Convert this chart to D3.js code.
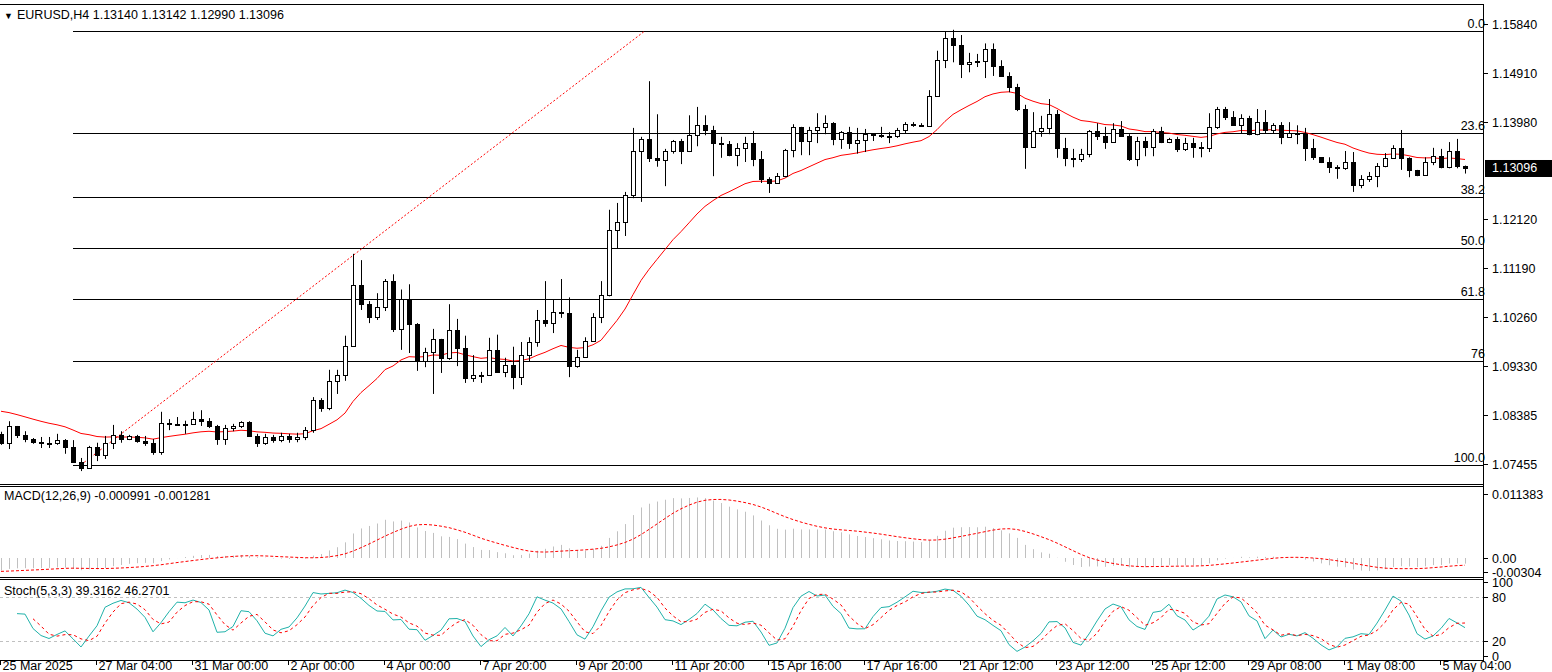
<!DOCTYPE html>
<html>
<head>
<meta charset="utf-8"/>
<script src="https://cdnjs.cloudflare.com/ajax/libs/d3/7.8.5/d3.min.js"></script>
<style>
  body { margin: 0; background: #fff; }
  text { font-family: "Liberation Sans", Arial, sans-serif; font-size: 12.5px; fill: #000; }
</style>
</head>
<body>
<script>
// EURUSD H4 bars (open = previous close)
const open0 = 1.0803;
const closes = [
  1.0786,1.0818,1.0801,1.0793,1.0787,1.0786,1.0786,1.0791,1.0778,1.0749,1.0738,1.0778,
  1.0763,1.0786,1.0801,1.0793,1.0799,1.0789,1.0786,1.0768,1.0824,1.0822,1.0822,1.0822,
  1.0831,1.0827,1.0818,1.0793,1.0814,1.0818,1.0826,1.0799,1.0786,1.0797,1.0791,1.0799,
  1.0793,1.0797,1.0810,1.0867,1.0852,1.0904,1.0915,1.0971,1.1087,1.1051,1.1026,1.1045,
  1.1094,1.1002,1.1059,1.1012,1.0942,1.0959,1.0984,1.0948,1.1001,1.0967,1.0909,1.0915,
  1.0915,1.0963,1.0921,1.0934,1.0911,1.0953,1.0978,1.1020,1.1014,1.1035,1.1033,1.0932,
  1.0949,1.0980,1.1026,1.1067,1.1191,1.1207,1.1258,1.1342,1.1365,1.1329,1.1325,1.1342,
  1.1361,1.1342,1.1372,1.1391,1.1382,1.1357,1.1355,1.1334,1.1348,1.1357,1.1327,1.1289,
  1.1281,1.1294,1.1344,1.1388,1.1361,1.1382,1.1388,1.1395,1.1365,1.1378,1.1357,1.1363,
  1.1374,1.1372,1.1371,1.1370,1.1382,1.1393,1.1391,1.1390,1.1447,1.1515,1.1557,1.1544,
  1.1508,1.1511,1.1513,1.1536,1.1504,1.1485,1.1464,1.1422,1.1350,1.1380,1.1386,1.1413,
  1.1348,1.1329,1.1327,1.1336,1.1380,1.1370,1.1359,1.1384,1.1370,1.1327,1.1361,1.1350,
  1.1380,1.1359,1.1365,1.1346,1.1357,1.1350,1.1348,1.1388,1.1422,1.1407,1.1391,1.1405,
  1.1374,1.1397,1.1382,1.1391,1.1369,1.1376,1.1374,1.1348,1.1330,1.1321,1.1311,1.1309,
  1.1321,1.1277,1.1289,1.1294,1.1313,1.1329,1.1348,1.1329,1.1306,1.1296,1.1321,1.1332,
  1.1311,1.1342,1.1314,1.13096
];
const highs = [
  1.0807,1.0827,1.0818,1.0808,1.0795,1.0797,1.0797,1.0803,1.0793,1.0791,1.0757,1.0780,
  1.0786,1.0799,1.0820,1.0808,1.0801,1.0801,1.0799,1.0793,1.0845,1.0831,1.0835,1.0828,
  1.0845,1.0848,1.0833,1.0820,1.0820,1.0822,1.0827,1.0827,1.0803,1.0803,1.0801,1.0805,
  1.0803,1.0805,1.0816,1.0873,1.0871,1.0925,1.0925,1.0990,1.1146,1.1134,1.1056,1.1071,
  1.1098,1.1107,1.1078,1.1088,1.1014,1.0967,1.1003,1.0984,1.1050,1.1022,1.0990,1.0953,
  1.0921,1.0986,1.0992,1.0948,1.0969,1.0978,1.0987,1.1039,1.1094,1.1058,1.1098,1.1063,
  1.0963,1.0987,1.1033,1.1094,1.1230,1.1243,1.1264,1.1386,1.1369,1.1475,1.1412,1.1346,
  1.1363,1.1365,1.1410,1.1426,1.1410,1.1390,1.1369,1.1361,1.1357,1.1369,1.1380,1.1342,
  1.1292,1.1300,1.1346,1.1393,1.1388,1.1388,1.1414,1.1410,1.1397,1.1380,1.1388,1.1386,
  1.1384,1.1376,1.1388,1.1378,1.1386,1.1397,1.1397,1.1395,1.1458,1.1533,1.1569,1.1573,
  1.1563,1.1529,1.1527,1.1547,1.1547,1.1515,1.1492,1.1470,1.1430,1.1416,1.1409,1.1441,
  1.1420,1.1367,1.1346,1.1346,1.1382,1.1395,1.1388,1.1395,1.1399,1.1374,1.1369,1.1369,
  1.1384,1.1388,1.1367,1.1369,1.1367,1.1367,1.1359,1.1414,1.1426,1.1426,1.1418,1.1412,
  1.1409,1.1422,1.1420,1.1395,1.1397,1.1397,1.1391,1.1386,1.1365,1.1330,1.1330,1.1315,
  1.1342,1.1340,1.1296,1.1302,1.1319,1.1338,1.1353,1.1382,1.1330,1.1306,1.1330,1.1348,
  1.1346,1.1359,1.1365,1.13142
];
const lows = [
  1.0782,1.0774,1.0795,1.0787,1.0784,1.0776,1.0776,1.0782,1.0765,1.0748,1.0732,1.0738,
  1.0751,1.0755,1.0774,1.0786,1.0791,1.0786,1.0780,1.0763,1.0763,1.0810,1.0820,1.0803,
  1.0820,1.0818,1.0814,1.0782,1.0782,1.0808,1.0814,1.0797,1.0778,1.0782,1.0786,1.0787,
  1.0786,1.0787,1.0791,1.0805,1.0845,1.0848,1.0879,1.0904,1.0969,1.1039,1.1014,1.1020,
  1.1037,1.0997,1.0963,1.0957,1.0923,1.0930,1.0879,1.0919,1.0944,1.0932,1.0900,1.0902,
  1.0900,1.0915,1.0919,1.0911,1.0888,1.0896,1.0940,1.0969,1.1007,1.0995,1.1024,1.0911,
  1.0929,1.0963,1.0978,1.1014,1.1065,1.1157,1.1180,1.1252,1.1245,1.1321,1.1312,1.1275,
  1.1337,1.1317,1.1340,1.1351,1.1372,1.1294,1.1329,1.1332,1.1313,1.1321,1.1313,1.1281,
  1.1262,1.1281,1.1292,1.1330,1.1334,1.1334,1.1357,1.1374,1.1353,1.1346,1.1346,1.1337,
  1.1340,1.1361,1.1367,1.1357,1.1367,1.1376,1.1388,1.1388,1.1388,1.1445,1.1500,1.1511,
  1.1481,1.1492,1.1502,1.1481,1.1485,1.1483,1.1454,1.1418,1.1308,1.1348,1.1369,1.1374,
  1.1329,1.1313,1.1311,1.1321,1.1330,1.1363,1.1346,1.1359,1.1369,1.1323,1.1313,1.1332,
  1.1332,1.1357,1.1357,1.1340,1.1342,1.1329,1.1330,1.1340,1.1384,1.1401,1.1390,1.1376,
  1.1372,1.1372,1.1376,1.1376,1.1355,1.1367,1.1355,1.1323,1.1325,1.1319,1.1300,1.1289,
  1.1306,1.1264,1.1271,1.1283,1.1273,1.1311,1.1327,1.1306,1.1292,1.1294,1.1296,1.1315,
  1.1309,1.1309,1.1309,1.12990
];

// axis labels
const priceTicks = [1.15840, 1.14910, 1.13980, 1.12120, 1.11190, 1.10260, 1.09330, 1.08385, 1.07455];
const timeLabels = ["25 Mar 2025","27 Mar 04:00","31 Mar 00:00","2 Apr 00:00","4 Apr 00:00","7 Apr 20:00",
  "9 Apr 20:00","11 Apr 20:00","15 Apr 16:00","17 Apr 16:00","21 Apr 12:00","23 Apr 12:00",
  "25 Apr 12:00","29 Apr 08:00","1 May 08:00","5 May 04:00"];
const barsPerLabel = 12;

// fibonacci retracement
const fibHigh = 1.1571, fibLow = 1.0744;
const fibAnchorBars = [10, 80.5];
const fibLevels = [0, 23.6, 38.2, 50, 61.8, 76, 100];
const fibNames = ["0.0", "23.6", "38.2", "50.0", "61.8", "76", "100.0"];

const maPeriod = 21, maSeed = 1.0852;
const ema12Seed = 1.0808, ema26Seed = 1.0830, signalSeed = -0.0024;
const macdTicks = [[0.011383, '0.011383'], [0, '0.00'], [-0.00304, '-0.00304']];

const W = 1552, H = 672, axisX = 1483;
const svg = d3.select('body').append('svg').attr('width', W).attr('height', H);
svg.append('rect').attr('width', W).attr('height', H).attr('fill', '#fff');

const n = closes.length;
const opens = closes.map((c, i) => i === 0 ? open0 : closes[i - 1]);
const x = d3.scaleLinear().domain([0, n - 1]).range([1, 1 + 8 * (n - 1)]);
const y = d3.scaleLinear().domain([1.07455, 1.15840]).range([464, 24]);

// frame
const frame = svg.append('g').attr('stroke', '#000').attr('stroke-width', 1);
[[0, 4.5, axisX, 4.5], [axisX + .5, 4, axisX + .5, 661], [0, 484.5, axisX, 484.5], [0, 486.5, axisX, 486.5],
 [0, 577.5, axisX, 577.5], [0, 579.5, axisX, 579.5], [0, 660.5, axisX + 1, 660.5]]
  .forEach(l => frame.append('line').attr('x1', l[0]).attr('y1', l[1]).attr('x2', l[2]).attr('y2', l[3]));

svg.append('clipPath').attr('id', 'mainClip').append('rect').attr('x', 0).attr('y', 5).attr('width', axisX).attr('height', 479);
const main = svg.append('g').attr('clip-path', 'url(#mainClip)');

// fibo lines
fibLevels.forEach((lv, k) => {
  const yy = Math.round(y(fibHigh - lv / 100 * (fibHigh - fibLow))) + .5;
  main.append('line').attr('x1', x(9)).attr('x2', axisX).attr('y1', yy).attr('y2', yy).attr('stroke', '#000');
  svg.append('text').attr('x', 1485).attr('y', yy - 4).attr('text-anchor', 'end').text(fibNames[k]);
});
main.append('line').attr('x1', x(fibAnchorBars[0])).attr('y1', y(fibLow))
  .attr('x2', x(fibAnchorBars[1])).attr('y2', y(fibHigh))
  .attr('stroke', 'red').attr('stroke-dasharray', '2,2');

// moving average
const ma = [];
let e = maSeed;
closes.forEach(c => { e = e + 2 / (maPeriod + 1) * (c - e); ma.push(e); });
main.append('path').datum(ma).attr('fill', 'none').attr('stroke', 'red')
  .attr('d', d3.line().x((d, i) => x(i)).y(d => y(d)));

// candles
const bars = main.selectAll('g.bar').data(closes).enter().append('g');
bars.append('line')
  .attr('x1', (d, i) => Math.round(x(i)) + .5).attr('x2', (d, i) => Math.round(x(i)) + .5)
  .attr('y1', (d, i) => y(Math.max(highs[i], opens[i], d))).attr('y2', (d, i) => y(Math.min(lows[i], opens[i], d)))
  .attr('stroke', '#000');
bars.append('rect')
  .attr('x', (d, i) => Math.round(x(i)) - 1.5).attr('width', 4)
  .attr('y', (d, i) => Math.round(y(Math.max(opens[i], d))) + .5)
  .attr('height', (d, i) => Math.max(1, Math.round(Math.abs(y(opens[i]) - y(d)))))
  .attr('fill', (d, i) => d >= opens[i] ? '#fff' : '#000').attr('stroke', '#000');

// price axis
priceTicks.forEach(p => {
  const yy = Math.round(y(p)) + .5;
  svg.append('line').attr('x1', axisX).attr('x2', axisX + 5).attr('y1', yy).attr('y2', yy).attr('stroke', '#000');
  svg.append('text').attr('x', 1492).attr('y', yy + 4).text(p.toFixed(5));
});
const last = closes[n - 1];
svg.append('rect').attr('x', 1485).attr('y', y(last) - 8).attr('width', 67).attr('height', 17).attr('fill', '#000');
svg.append('text').attr('x', 1492).attr('y', y(last) + 4.5).style('fill', '#fff').text(last.toFixed(5));

// header
svg.append('text').attr('x', 4).attr('y', 19).style('font-size', '9px').text('▼');
svg.append('text').attr('x', 17).attr('y', 19)
  .text('EURUSD,H4  ' + [opens[n - 1], highs[n - 1], lows[n - 1], last].map(v => v.toFixed(5)).join(' '));

// MACD
const macd = [], signal = [];
let e12 = ema12Seed, e26 = ema26Seed;
closes.forEach(c => { e12 += 2 / 13 * (c - e12); e26 += 2 / 27 * (c - e26); macd.push(e12 - e26); });
macd.forEach((m, i) => {
  let s = 0;
  for (let k = i - 8; k <= i; k++) s += k < 0 ? signalSeed : macd[k];
  signal.push(s / 9);
});
const ym = d3.scaleLinear().domain([0, 0.011383]).range([558, 494]);
svg.append('g').selectAll('line').data(macd).enter().append('line')
  .attr('x1', (d, i) => Math.round(x(i)) + .5).attr('x2', (d, i) => Math.round(x(i)) + .5)
  .attr('y1', ym(0)).attr('y2', d => ym(d)).attr('stroke', '#c0c0c0');
svg.append('path').datum(signal).attr('fill', 'none').attr('stroke', 'red').attr('stroke-dasharray', '3,2')
  .attr('d', d3.line().x((d, i) => x(i)).y(d => ym(d)));
svg.append('text').attr('x', 4).attr('y', 500).text('MACD(12,26,9) -0.000991 -0.001281');
macdTicks.forEach((t, k) => {
  const yy = Math.round(k === 2 ? ym(t[0]) - 3 : ym(t[0])) + .5;
  svg.append('line').attr('x1', axisX).attr('x2', axisX + 5).attr('y1', yy).attr('y2', yy).attr('stroke', '#000');
  svg.append('text').attr('x', 1492).attr('y', yy + 4).text(t[1]);
});

// Stochastic 5,3,3
const kv = [], dv = [];
closes.forEach((c, i) => {
  if (i < 2) { kv.push(null); return; }
  let num = 0, den = 0;
  for (let j = i - 2; j <= i; j++) {
    const from = Math.max(0, j - 4);
    const hh = d3.max(highs.slice(from, j + 1)), ll = d3.min(lows.slice(from, j + 1));
    num += closes[j] - ll; den += hh - ll;
  }
  kv.push(100 * num / den);
});
kv.forEach((k, i) => dv.push(i < 4 ? null : (kv[i] + kv[i - 1] + kv[i - 2]) / 3));
const ys = d3.scaleLinear().domain([0, 100]).range([656, 582]);
[80, 20].forEach(l => svg.append('line').attr('x1', 0).attr('x2', axisX).attr('y1', Math.round(ys(l)) + .5)
  .attr('y2', Math.round(ys(l)) + .5).attr('stroke', '#c0c0c0').attr('stroke-dasharray', '3,3'));
const sline = d3.line().defined(d => d !== null).x((d, i) => x(i)).y(d => ys(d));
svg.append('path').datum(kv).attr('fill', 'none').attr('stroke', '#20b2aa').attr('d', sline);
svg.append('path').datum(dv).attr('fill', 'none').attr('stroke', 'red').attr('stroke-dasharray', '3,3').attr('d', sline);
svg.append('text').attr('x', 4).attr('y', 595).text('Stoch(5,3,3) 39.3162 46.2701');
[100, 80, 20, 0].forEach(t => {
  const yy = Math.round(ys(t)) + .5;
  svg.append('line').attr('x1', axisX).attr('x2', axisX + 5).attr('y1', yy).attr('y2', yy).attr('stroke', '#000');
  svg.append('text').attr('x', 1492).attr('y', yy + 4).text(t);
});

// time axis
timeLabels.forEach((t, k) => {
  const xx = Math.round(x(k * barsPerLabel)) - .5;
  svg.append('line').attr('x1', xx).attr('x2', xx).attr('y1', 660).attr('y2', 665).attr('stroke', '#000');
  svg.append('text').attr('x', xx + 2).attr('y', 670).text(t);
});
</script>
</body>
</html>
